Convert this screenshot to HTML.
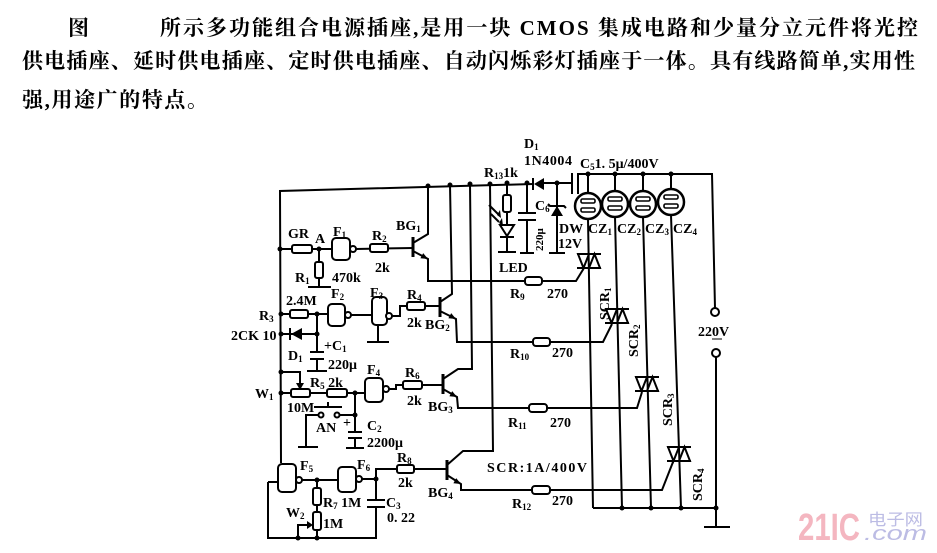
<!DOCTYPE html>
<html><head><meta charset="utf-8"><style>
html,body{margin:0;padding:0;background:#fff;}
svg{display:block;}
.t{font-family:"Liberation Serif","Noto Serif CJK SC",serif;font-weight:bold;font-size:14px;fill:#000;}
.s{font-size:9px;}
.cjk{font-family:"Liberation Serif","Noto Serif CJK SC","Noto Sans CJK SC",serif;font-weight:bold;font-size:21px;fill:#000;}
</style></head><body>
<svg width="937" height="553" viewBox="0 0 937 553" xmlns="http://www.w3.org/2000/svg">
<rect width="937" height="553" fill="#fff"/>
<!-- header text -->
<text class="cjk" x="68" y="35">图</text>
<text class="cjk" x="160" y="35" textLength="758" lengthAdjust="spacing">所示多功能组合电源插座,是用一块 CMOS 集成电路和少量分立元件将光控</text>
<text class="cjk" x="22" y="68" textLength="893" lengthAdjust="spacing">供电插座、延时供电插座、定时供电插座、自动闪烁彩灯插座于一体。具有线路简单,实用性</text>
<text class="cjk" x="22" y="107" textLength="186" lengthAdjust="spacing">强,用途广的特点。</text>

<g stroke="#000" stroke-width="2" fill="none" stroke-linejoin="miter">
<!-- left bus + top bus -->
<path d="M281,463 L280,191 L533,184"/>
<path d="M544,183 L572,183"/>
<path d="M572,173 L572,194 M578,173 L578,194"/>
<path d="M578,174 L712,174 L715,308"/>
<!-- transistor collector/emitter wiring -->
<path d="M413,243 L428,234 L428,186"/>
<path d="M413,251 L428,259 L428,281 L576,281 L584,268"/>
<path d="M440,302 L452,294 L450,185"/>
<path d="M440,311 L456,319 L457,342 L603,342 L612,324"/>
<path d="M443,379 L458,369 L472,369 L470,184"/>
<path d="M443,389 L457,397 L458,408 L637,408 L642,392"/>
<path d="M447,465 L463,451 L493,451 L490,184"/>
<path d="M447,475 L461,484 L461,490 L662,490 L673,462"/>
<path d="M413,237 L413,257 M440,297 L440,317 M443,374 L443,394 M447,460 L447,480" stroke-width="3"/>
<!-- sockets verticals -->
<path d="M588,174 L588,193 M588,219 L593,508"/>
<path d="M615,174 L615,191 M615,217 L622,508"/>
<path d="M643,174 L643,191 M643,217 L651,508"/>
<path d="M671,174 L671,189 M671,215 L681,508"/>
<path d="M593,508 L716,508"/>
<path d="M716,357 L716,527 M704,527 L730,527"/>
<!-- R13 / LED -->
<path d="M507,183 L507,252 M498,252 L516,252"/>
<path d="M500,237 L514,237"/>
<path d="M489,205 L498,214 M491,214 L499,222"/>
<!-- C6 -->
<path d="M527,183 L527,213 M518,213 L536,213 M518,220 L536,220 M527,220 L527,253 M520,253 L534,253"/>
<!-- DW -->
<path d="M557,183 L557,253 M549,253 L565,253 M548,204 L550,206 L564,206 L566,208"/>
<!-- GR row -->
<path d="M281,249 L332,249"/>
<path d="M356,249 L413,248"/>
<path d="M319,249 L319,287 M308,287 L331,287"/>
<!-- R3 row -->
<path d="M281,314 L328,314"/>
<path d="M351,315 L372,315"/>
<path d="M392,316 L400,316 L400,306 L440,306"/>
<path d="M378,325 L378,342 M367,342 L389,342"/>
<!-- D1 row -->
<path d="M281,334 L317,334"/>
<path d="M290,328 L290,340"/>
<path d="M317,314 L317,352 M310,352 L324,352 M310,359 L324,359 M317,359 L317,371 M307,371 L327,371"/>
<!-- W1 row -->
<path d="M281,372 L300,372 L300,385"/>
<path d="M281,393 L365,393"/>
<path d="M389,389 L396,389 L396,385 L443,385"/>
<path d="M355,393 L355,432 M348,432 L362,432 M348,438 L362,438 M355,438 L355,448 M346,448 L364,448"/>
<path d="M340,415 L355,415 M318,415 L306,415 L306,447 M298,447 L318,447"/>
<path d="M314,407 L342,407 M328,402 L328,407"/>
<!-- F5/F6 -->
<path d="M268,482 L278,482 M268,482 L268,538 L377,538"/>
<path d="M302,480 L338,480"/>
<path d="M362,479 L376,479 L376,469 L447,469"/>
<path d="M376,479 L376,500 M367,500 L385,500 M367,507 L385,507 M376,507 L376,538"/>
<path d="M317,480 L317,538"/>
<path d="M298,538 L298,525 L309,525"/>
</g>

<!-- filled / white components -->
<g stroke="#000" stroke-width="2" fill="#fff">
<!-- resistors -->
<rect x="292" y="245" width="20" height="8" rx="2"/>
<rect x="370" y="244" width="18" height="8" rx="2"/>
<rect x="315" y="262" width="8" height="16" rx="2"/>
<rect x="290" y="310" width="18" height="8" rx="2"/>
<rect x="407" y="302" width="18" height="8" rx="2"/>
<rect x="291" y="389" width="19" height="8" rx="2"/>
<rect x="327" y="389" width="20" height="8" rx="2"/>
<rect x="403" y="381" width="19" height="8" rx="2"/>
<rect x="397" y="465" width="17" height="8" rx="2"/>
<rect x="313" y="488" width="8" height="17" rx="2"/>
<rect x="313" y="512" width="8" height="18" rx="2"/>
<rect x="503" y="195" width="8" height="17" rx="2"/>
<rect x="525" y="277" width="17" height="8" rx="3"/>
<rect x="533" y="338" width="17" height="8" rx="3"/>
<rect x="529" y="404" width="18" height="8" rx="3"/>
<rect x="532" y="486" width="18" height="8" rx="3"/>
<!-- gates -->
<rect x="332" y="238" width="18" height="22" rx="4"/>
<circle cx="353" cy="249" r="3"/>
<rect x="328" y="304" width="17" height="22" rx="4"/>
<circle cx="348" cy="315" r="3"/>
<rect x="372" y="297" width="15" height="28" rx="4"/>
<circle cx="389" cy="316" r="3"/>
<rect x="365" y="378" width="18" height="24" rx="4"/>
<circle cx="386" cy="389" r="3"/>
<rect x="278" y="464" width="18" height="28" rx="4"/>
<circle cx="299" cy="480" r="3"/>
<rect x="338" y="467" width="18" height="25" rx="4"/>
<circle cx="359" cy="479" r="3"/>
<!-- sockets -->
<circle cx="588" cy="206" r="13" stroke-width="2.5"/>
<circle cx="615" cy="204" r="13" stroke-width="2.5"/>
<circle cx="643" cy="204" r="13" stroke-width="2.5"/>
<circle cx="671" cy="202" r="13" stroke-width="2.5"/>
<!-- LED triangle -->
<polygon points="500,225 514,225 507,236"/>
<!-- contacts & terminals -->
<circle cx="321" cy="415" r="2.5"/>
<circle cx="337" cy="415" r="2.5"/>
<circle cx="715" cy="312" r="4"/>
<circle cx="716" cy="353" r="4"/>
</g>

<!-- socket slots (outlined) -->
<g stroke="#000" stroke-width="1.6" fill="#fff">
<rect x="581" y="199" width="14" height="4" rx="1.5"/><rect x="581" y="208" width="14" height="4" rx="1.5"/>
<rect x="608" y="197" width="14" height="4" rx="1.5"/><rect x="608" y="206" width="14" height="4" rx="1.5"/>
<rect x="636" y="197" width="14" height="4" rx="1.5"/><rect x="636" y="206" width="14" height="4" rx="1.5"/>
<rect x="664" y="195" width="14" height="4" rx="1.5"/><rect x="664" y="204" width="14" height="4" rx="1.5"/>
</g>

<g fill="#000" stroke="none">
<!-- transistor arrows -->
<polygon points="428,259 420.4,258.3 423.2,253.1"/>
<polygon points="456,319 448.4,318.3 451.2,313.1"/>
<polygon points="457,397 449.4,396.3 452.2,391.1"/>
<polygon points="461,484 453.4,483.3 456.2,478.1"/>
<!-- diodes -->
<polygon points="291,334 302,328 302,340"/>
<polygon points="534,184 544,178 544,190"/>
<rect x="532" y="178" width="2" height="12"/>
<polygon points="551,216 563,216 557,206"/>
<!-- wiper arrows -->
<polygon points="296,383 304,383 300,390"/>
<polygon points="307,521 307,529 313,525"/>
<polygon points="497,215 500,210 501,218"/>
<polygon points="499,223 502,218 503,226"/>
<!-- nodes -->
<circle cx="280" cy="249" r="2.5"/><circle cx="319" cy="249" r="2.5"/>
<circle cx="281" cy="314" r="2.5"/><circle cx="317" cy="314" r="2.5"/>
<circle cx="281" cy="334" r="2.5"/><circle cx="317" cy="334" r="2.5"/>
<circle cx="281" cy="372" r="2.5"/><circle cx="281" cy="393" r="2.5"/>
<circle cx="355" cy="393" r="2.5"/><circle cx="355" cy="415" r="2.5"/>
<circle cx="317" cy="480" r="2.5"/><circle cx="376" cy="479" r="2.5"/>
<circle cx="298" cy="538" r="2.5"/><circle cx="317" cy="538" r="2.5"/>
<circle cx="428" cy="186" r="2.5"/><circle cx="450" cy="185" r="2.5"/>
<circle cx="470" cy="184" r="2.5"/><circle cx="490" cy="184" r="2.5"/>
<circle cx="507" cy="183" r="2.5"/><circle cx="527" cy="183" r="2.5"/>
<circle cx="557" cy="183" r="2.5"/>
<circle cx="588" cy="174" r="2.5"/><circle cx="615" cy="174" r="2.5"/>
<circle cx="643" cy="174" r="2.5"/><circle cx="671" cy="174" r="2.5"/>
<circle cx="622" cy="508" r="2.5"/><circle cx="651" cy="508" r="2.5"/>
<circle cx="681" cy="508" r="2.5"/><circle cx="716" cy="508" r="2.5"/>
</g>

<!-- triacs -->
<g stroke="#000" stroke-width="2" fill="#fff">
<g transform="translate(589,261)"><path d="M-12,-7 L12,-7 M-12,7 L12,7"/><polygon points="-11,-7 0,-7 -5.5,7"/><polygon points="0,7 11,7 5.5,-7"/></g>
<g transform="translate(617,316)"><path d="M-12,-7 L12,-7 M-12,7 L12,7"/><polygon points="-11,-7 0,-7 -5.5,7"/><polygon points="0,7 11,7 5.5,-7"/></g>
<g transform="translate(647,384)"><path d="M-12,-7 L12,-7 M-12,7 L12,7"/><polygon points="-11,-7 0,-7 -5.5,7"/><polygon points="0,7 11,7 5.5,-7"/></g>
<g transform="translate(679,454)"><path d="M-12,-7 L12,-7 M-12,7 L12,7"/><polygon points="-11,-7 0,-7 -5.5,7"/><polygon points="0,7 11,7 5.5,-7"/></g>
</g>

<!-- labels -->
<g class="t">
<text x="288" y="238">GR</text><text x="315" y="243">A</text>
<text x="333" y="236">F<tspan class="s" dy="2">1</tspan></text>
<text x="372" y="240">R<tspan class="s" dy="2">2</tspan></text>
<text x="375" y="272">2k</text>
<text x="396" y="230">BG<tspan class="s" dy="2">1</tspan></text>
<text x="295" y="282">R<tspan class="s" dy="2">1</tspan></text>
<text x="332" y="282">470k</text>
<text x="286" y="305">2.4M</text>
<text x="331" y="298">F<tspan class="s" dy="2">2</tspan></text>
<text x="370" y="297">F<tspan class="s" dy="2">3</tspan></text>
<text x="407" y="299">R<tspan class="s" dy="2">4</tspan></text>
<text x="407" y="327">2k</text>
<text x="425" y="329">BG<tspan class="s" dy="2">2</tspan></text>
<text x="259" y="320">R<tspan class="s" dy="2">3</tspan></text>
<text x="231" y="340">2CK 10</text>
<text x="288" y="360">D<tspan class="s" dy="2">1</tspan></text>
<text x="324" y="350">+C<tspan class="s" dy="2">1</tspan></text>
<text x="328" y="369">220μ</text>
<text x="255" y="398">W<tspan class="s" dy="2">1</tspan></text>
<text x="310" y="387">R<tspan class="s" dy="2">5</tspan><tspan dy="-2"> 2k</tspan></text>
<text x="287" y="412">10M</text>
<text x="367" y="374">F<tspan class="s" dy="2">4</tspan></text>
<text x="405" y="377">R<tspan class="s" dy="2">6</tspan></text>
<text x="407" y="405">2k</text>
<text x="428" y="411">BG<tspan class="s" dy="2">3</tspan></text>
<text x="316" y="432">AN</text>
<text x="343" y="427">+</text>
<text x="367" y="430">C<tspan class="s" dy="2">2</tspan></text>
<text x="367" y="447">2200μ</text>
<text x="300" y="470">F<tspan class="s" dy="2">5</tspan></text>
<text x="357" y="469">F<tspan class="s" dy="2">6</tspan></text>
<text x="397" y="462">R<tspan class="s" dy="2">8</tspan></text>
<text x="398" y="487">2k</text>
<text x="428" y="497">BG<tspan class="s" dy="2">4</tspan></text>
<text x="323" y="507">R<tspan class="s" dy="2">7</tspan><tspan dy="-2"> 1M</tspan></text>
<text x="386" y="507">C<tspan class="s" dy="2">3</tspan></text>
<text x="387" y="522">0. 22</text>
<text x="286" y="517">W<tspan class="s" dy="2">2</tspan></text>
<text x="323" y="528">1M</text>

<text x="524" y="148">D<tspan class="s" dy="2">1</tspan></text>
<text x="524" y="165" textLength="48">1N4004</text>
<text x="484" y="177">R<tspan class="s" dy="2">13</tspan><tspan dy="-2">1k</tspan></text>
<text x="580" y="168">C<tspan class="s" dy="2">5</tspan><tspan dy="-2">1. 5μ/400V</tspan></text>
<text x="535" y="210">C<tspan class="s" dy="2">6</tspan></text>
<text x="559" y="233">DW</text>
<text x="558" y="248">12V</text>
<text x="588" y="233">CZ<tspan class="s" dy="2">1</tspan></text>
<text x="617" y="233">CZ<tspan class="s" dy="2">2</tspan></text>
<text x="645" y="233">CZ<tspan class="s" dy="2">3</tspan></text>
<text x="673" y="233">CZ<tspan class="s" dy="2">4</tspan></text>
<text x="499" y="272">LED</text>
<text x="510" y="298">R<tspan class="s" dy="2">9</tspan></text>
<text x="547" y="298">270</text>
<text x="510" y="358">R<tspan class="s" dy="2">10</tspan></text>
<text x="552" y="357">270</text>
<text x="508" y="427">R<tspan class="s" dy="2">11</tspan></text>
<text x="550" y="427">270</text>
<text x="487" y="472" textLength="100">SCR:1A/400V</text>
<text x="512" y="508">R<tspan class="s" dy="2">12</tspan></text>
<text x="552" y="505">270</text>
<text x="698" y="336">220V</text>
<text transform="translate(609,320) rotate(-90)">SCR<tspan class="s" dy="2">1</tspan></text>
<text transform="translate(638,357) rotate(-90)">SCR<tspan class="s" dy="2">2</tspan></text>
<text transform="translate(672,426) rotate(-90)">SCR<tspan class="s" dy="2">3</tspan></text>
<text transform="translate(702,501) rotate(-90)">SCR<tspan class="s" dy="2">4</tspan></text>
<text transform="translate(543,251) rotate(-90)" style="font-size:11px">220μ</text>
</g>
<line x1="712" y1="339" x2="722" y2="339" stroke="#000" stroke-width="1"/>

<!-- watermark -->
<text x="798" y="540" textLength="62" lengthAdjust="spacingAndGlyphs" style="font-family:'Liberation Sans',sans-serif;font-weight:bold;font-size:38px;fill:#f4b6c0;">21IC</text>
<text x="868" y="525" textLength="55" lengthAdjust="spacingAndGlyphs" style="font-family:'Liberation Sans','Noto Sans CJK SC',sans-serif;font-size:16px;fill:#bcbce4;">电子网</text>
<text x="864" y="540" textLength="63" lengthAdjust="spacingAndGlyphs" style="font-family:'Liberation Sans',sans-serif;font-style:italic;font-size:20px;fill:#bcbce4;">.com</text>
</svg>
</body></html>
